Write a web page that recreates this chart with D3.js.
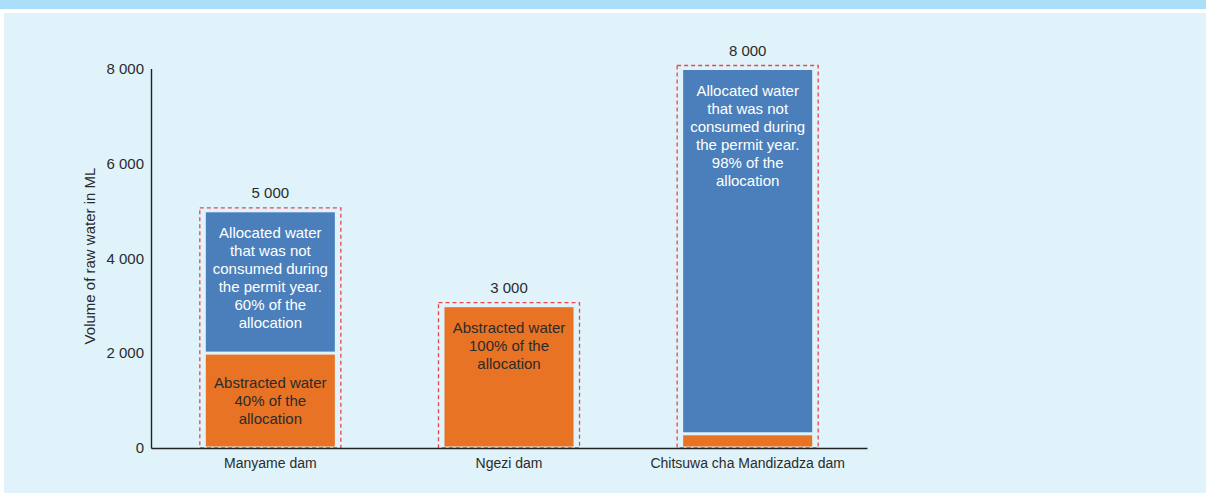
<!DOCTYPE html>
<html>
<head>
<meta charset="utf-8">
<script src="https://cdn.jsdelivr.net/npm/d3@7"></script>
<style>
  html, body { margin: 0; padding: 0; background: #ffffff; }
  svg { display: block; }
  text { font-family: "Liberation Sans", Arial, sans-serif; fill: #2b2b2b; }
</style>
</head>
<body>
<script>
// ---- data ----
const categories = ["Manyame dam", "Ngezi dam", "Chitsuwa cha Mandizadza dam"];
const abstracted = [2000, 3000, 300];      // orange (bottom)
const unconsumed = [3000, 0, 7700];        // blue (top)
const totals = [5000, 3000, 8000];
const totalLabels = ["5 000", "3 000", "8 000"];
const yTicks = [0, 2000, 4000, 6000, 8000];
const yTickLabels = ["0", "2 000", "4 000", "6 000", "8 000"];
const abstractedText = [
  ["Abstracted water", "40% of the", "allocation"],
  ["Abstracted water", "100% of the", "allocation"],
  []
];
const unconsumedText = [
  ["Allocated water", "that was not", "consumed during", "the permit year.", "60% of the", "allocation"],
  [],
  ["Allocated water", "that was not", "consumed during", "the permit year.", "98% of the", "allocation"]
];
const yTitle = "Volume of raw water in ML";

// ---- layout ----
const W = 1206, H = 494;
const svg = d3.select("body").append("svg").attr("width", W).attr("height", H);

svg.append("rect").attr("x", 0).attr("y", 0).attr("width", W).attr("height", 9).attr("fill", "#abdff9");
svg.append("rect").attr("x", 4).attr("y", 13).attr("width", W - 4).attr("height", 480).attr("fill", "#e0f3fa");

const x = d3.scaleBand().domain(categories).range([151, 867]).paddingInner(0.451).paddingOuter(0.2255);
const y = d3.scaleLinear().domain([0, 8000]).range([448, 68.5]);

const colors = { abstracted: "#e87324", unconsumed: "#4a7fbb" };
const inset = 1.5;

const segs = [];
categories.forEach((c, i) => {
  segs.push({ c, i, y0: 0, y1: abstracted[i], color: colors.abstracted, lines: abstractedText[i], textFill: "#2b2b2b" });
  segs.push({ c, i, y0: abstracted[i], y1: abstracted[i] + unconsumed[i], color: colors.unconsumed, lines: unconsumedText[i], textFill: "#ffffff" });
});
const drawn = segs.filter(s => s.y1 > s.y0);

// dashed boxes
svg.append("g").selectAll("rect").data(categories).join("rect")
  .attr("x", d => x(d) - 5)
  .attr("y", (d, i) => y(totals[i]) - 3)
  .attr("width", x.bandwidth() + 10)
  .attr("height", (d, i) => y(0) - y(totals[i]) + 3)
  .attr("fill", "none")
  .attr("stroke", "#e8474f")
  .attr("stroke-width", 1.3)
  .attr("stroke-dasharray", "4,3");

// bars
svg.append("g").selectAll("rect").data(drawn).join("rect")
  .attr("x", d => x(d.c) + 1)
  .attr("width", x.bandwidth() - 2)
  .attr("y", d => y(d.y1) + inset)
  .attr("height", d => Math.max(0, y(d.y0) - y(d.y1) - 2 * inset))
  .attr("fill", d => d.color);

// segment labels
const lh = 18;
drawn.forEach(s => {
  if (!s.lines.length) return;
  const isTop = Math.abs(s.y1 - totals[s.i]) < 1e-6;
  const top = y(s.y1), bottom = y(s.y0);
  const span = (s.lines.length - 1) * lh;
  const first = isTop ? top + 22 : (top + bottom) / 2 - span / 2;
  const cx = x(s.c) + x.bandwidth() / 2;
  svg.append("g").selectAll("text").data(s.lines).join("text")
    .attr("x", cx)
    .attr("y", (d, k) => first + k * lh)
    .attr("dy", "0.35em")
    .attr("text-anchor", "middle")
    .style("font-size", "15px")
    .style("fill", s.textFill)
    .text(d => d);
});

// total labels
svg.append("g").selectAll("text").data(categories).join("text")
  .attr("x", d => x(d) + x.bandwidth() / 2)
  .attr("y", (d, i) => y(totals[i]) - 18)
  .attr("dy", "0.35em")
  .attr("text-anchor", "middle")
  .style("font-size", "15px")
  .text((d, i) => totalLabels[i]);

// y axis
const yAxis = d3.axisLeft(y).tickValues(yTicks).tickSize(0).tickPadding(7)
  .tickFormat((d, i) => yTickLabels[i]);
const gy = svg.append("g").attr("transform", "translate(151,0)").call(yAxis);
gy.select(".domain").attr("stroke", "#222").attr("stroke-width", 1.4);
gy.selectAll("text").style("font-size", "15px").style("font-family", "'Liberation Sans', Arial, sans-serif").attr("fill", "#2b2b2b");

// x axis
const xAxis = d3.axisBottom(x).tickSize(0).tickPadding(10);
const gx = svg.append("g").attr("transform", "translate(0,448)").call(xAxis);
gx.select(".domain").attr("stroke", "#222").attr("stroke-width", 1.4);
gx.selectAll("text").style("font-size", "14px").style("font-family", "'Liberation Sans', Arial, sans-serif").attr("fill", "#2b2b2b");

// y title
svg.append("text")
  .attr("transform", "translate(90,256) rotate(-90)")
  .attr("text-anchor", "middle")
  .attr("dy", "0.35em")
  .style("font-size", "15px")
  .text(yTitle);
</script>
</body>
</html>
